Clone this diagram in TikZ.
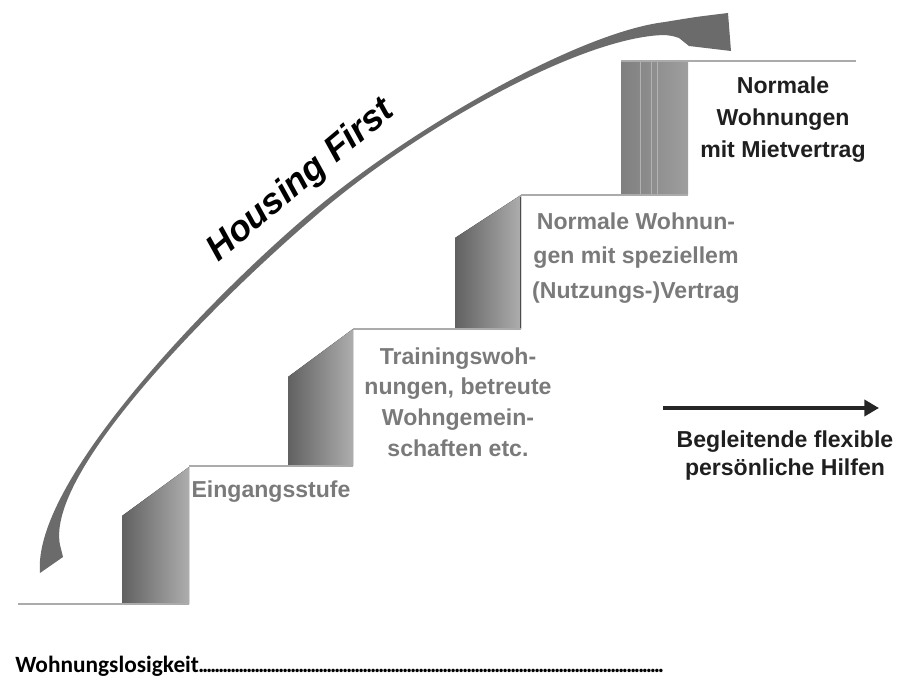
\documentclass[tikz,border=0pt]{standalone}
\usepackage{fontspec}
\setmainfont{Liberation Sans}
\newfontfamily\calfont{Carlito}
\usetikzlibrary{arrows.meta}
\tikzset{
  riser/.style={left color=black!62,right color=black!32},
  tread/.style={draw=black!33,line width=1.5pt},
  graytxt/.style={font=\bfseries\fontsize{17.3}{23}\selectfont,text=black!52,align=center,inner sep=0pt},
  blacktxt/.style={graytxt,text=black!88},
  hfarrow/.style={fill=black!58},
}
\begin{document}
\begin{tikzpicture}[x=.75pt,y=-.75pt]
	\useasboundingbox(0,0)rectangle(897,677);
	% the steps
	\fill[riser](122,604)--(122,516)--(189,467)--(189,604)--cycle;
	\fill[riser](288,466)--(288,377)--(353,329)--(353,466)--cycle;
	\fill[riser](455,329)--(455,238)--(521,195)--(521,329)--cycle;
	\draw[black!70,line width=.8pt](520.5,197)--(520.5,329);
	\fill[left color=black!50,right color=black!38](621,61)rectangle(688,195);
	\foreach \x in {640,651,657}
		\draw[black!30,line width=.5pt](\x,62)--(\x,194);
	\draw[tread](18,604)--(189,604);
	\draw[tread](189,466)--(353,466);
	\draw[tread](353,329)--(521,329);
	\draw[tread](521,195)--(688,195);
	\draw[tread](621,61)--(856,61);
	% curved arrow
	\fill[hfarrow](40,573)..controls(32,480)and(215,294)..(307,216)
		..controls(410,128)and(580,32)..(665,22)
		..controls(695,17)..(728,13)--(731,51)--(689,46)--(679,38)
		..controls(673,36)..(665,35)
		..controls(582,36)and(412,131)..(312,219)
		..controls(222,296)and(45,470)..(60,545)
		--(63,557)--cycle;
	\node[font=\bfseries\itshape\fontsize{27}{30}\selectfont,rotate=40,inner sep=0pt](hf)at(301,181){Housing First};
	% labels
	\node[blacktxt,font=\bfseries\fontsize{17.3}{24}\selectfont](miet)at(783,120){Normale\\Wohnungen\\mit Mietvertrag};
	\node[graytxt,font=\bfseries\fontsize{17.3}{26}\selectfont](spez)at(636,258){Normale Wohnun-\\gen mit speziellem\\(Nutzungs-)Vertrag};
	\node[graytxt](train)at(458,402){Trainingswoh-\\nungen, betreute\\Wohngemein-\\schaften etc.};
	\node[graytxt](eing)at(271,492){Eingangsstufe};
	\coordinate(hA)at(663,408);
	\coordinate(hB)at(879,408);
	\draw[-{Triangle[length=11pt,width=12pt]},line width=3pt,black!85](hA)--(hB);
	\node[blacktxt,font=\bfseries\fontsize{17.3}{21}\selectfont](hilfe)at(785,456){Begleitende flexible\\persönliche Hilfen};
	\node[font=\calfont\bfseries\fontsize{17.5}{20}\selectfont,anchor=base west,inner sep=0pt](los)at(15,672)
		{\makebox[486pt][l]{Wohnungslosigkeit\leaders\hbox to 3pt{\hss.\hss}\hfill}};
\end{tikzpicture}
\end{document}
